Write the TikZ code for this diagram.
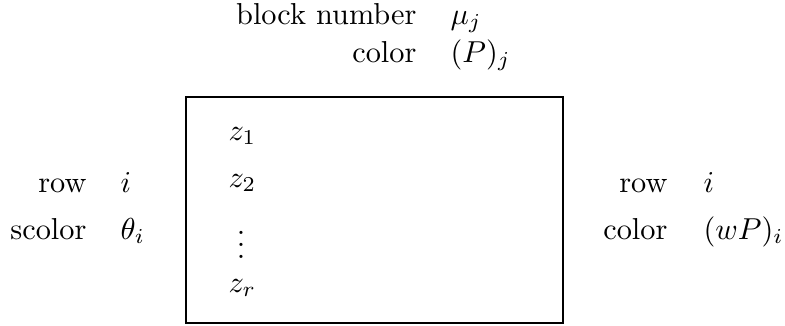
\documentclass[tikz,border=0pt]{standalone}
\usetikzlibrary{fit}
\begin{document}
\begin{tikzpicture}[x=0.33pt,y=-0.33pt,
  lab/.style={inner sep=0pt,anchor=base east},
  val/.style={inner sep=0pt,anchor=base west},
  frame/.style={draw,line width=0.4pt,inner sep=0pt}]
\useasboundingbox (0,0) rectangle (785,325);
% top labels
\node[lab] (bn) at (417,24) {block number};
\node[val] (mu) at (450,24) {$\mu_j$};
\node[lab] (tc) at (417,62) {color};
\node[val] (pj) at (450,62) {$(P)_j$};
% box
\coordinate (bnw) at (186,97);
\coordinate (bse) at (563,323);
\node[frame,fit=(bnw)(bse)] (box) {};
\node[val] (z1) at (228,140) {$z_1$};
\node[val] (z2) at (228,187) {$z_2$};
\node[inner sep=0pt] (vd) at (241,236) {$\vdots$};
\node[val] (zr) at (228,292) {$z_r$};
% left labels
\node[lab] (lrow) at (87,192) {row};
\node[val] (li) at (120,192) {$i$};
\node[lab] (lsc) at (87,239) {scolor};
\node[val] (lth) at (120,239) {$\theta_i$};
% right labels
\node[lab] (rrow) at (668,192) {row};
\node[val] (ri) at (703,192) {$i$};
\node[lab] (rcol) at (668,239) {color};
\node[val] (rwp) at (703,239) {$(wP)_i$};
\end{tikzpicture}
\end{document}
